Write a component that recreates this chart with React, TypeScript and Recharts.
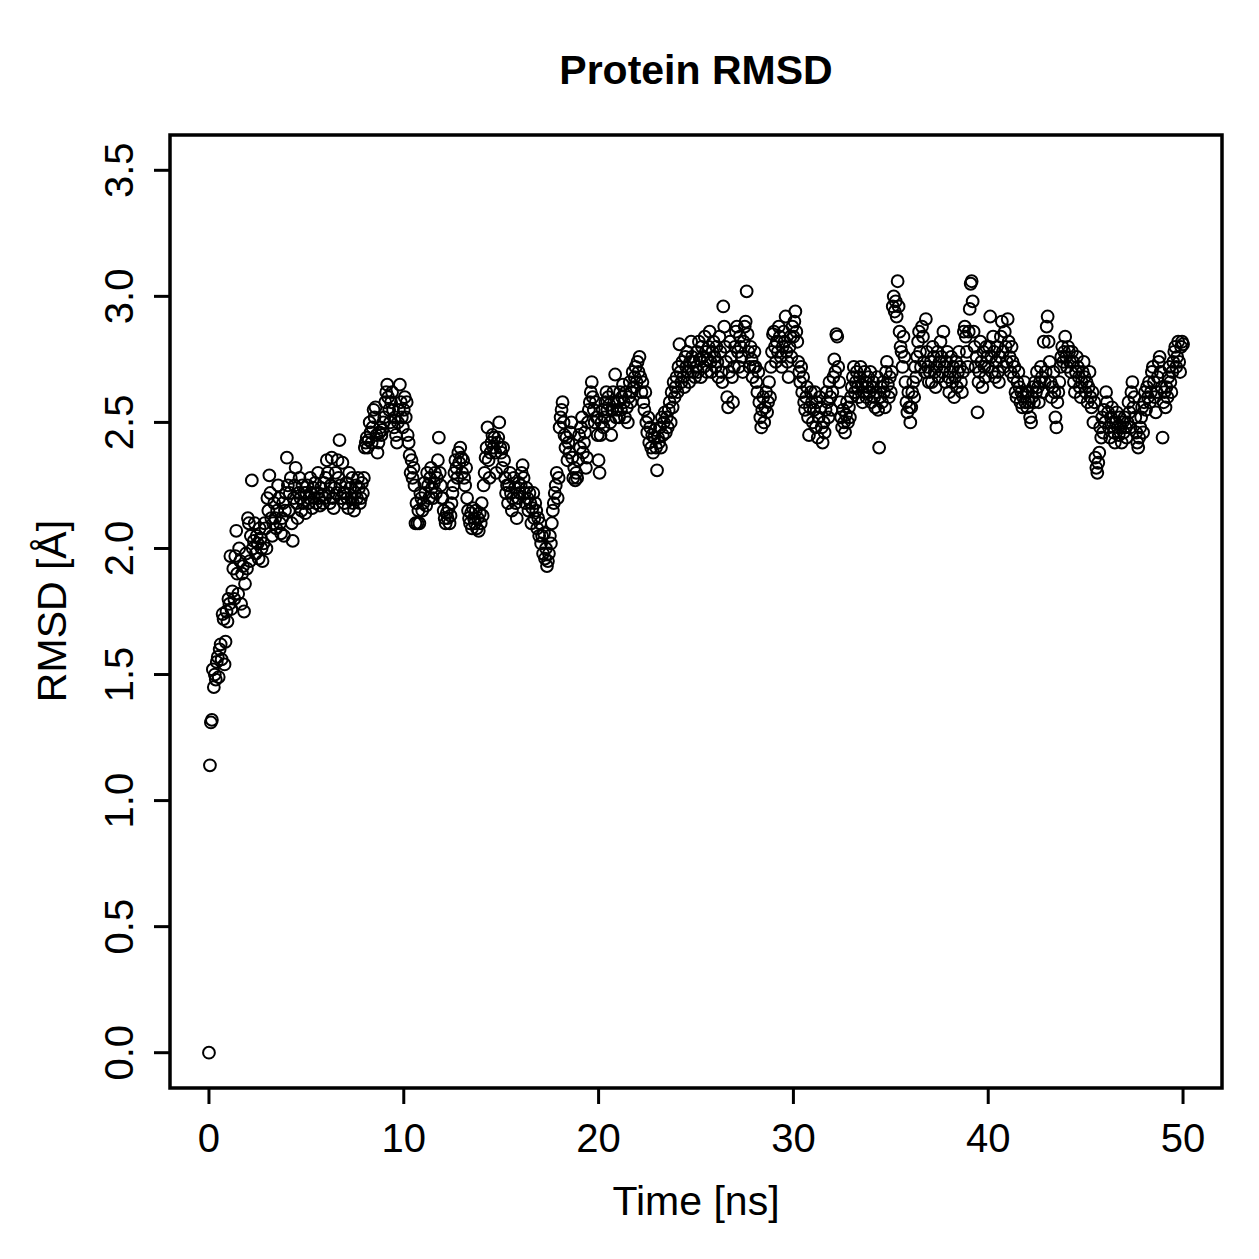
import React from "react";
import {
  ScatterChart,
  Scatter,
  XAxis,
  YAxis,
  ReferenceArea,
} from "recharts";

// RMSD per frame, one frame every 0.05 ns, split into 10 ns blocks
const rmsd00to10 = [
  0.0, 1.14, 1.31, 1.32, 1.52, 1.45, 1.5, 1.48, 1.55, 1.57, 1.49, 1.6, 1.62, 1.56, 1.74, 1.72, 1.54, 1.63, 1.75, 1.71,
  1.8, 1.78, 1.97, 1.76, 1.83, 1.92, 1.8, 1.97, 2.07, 1.9, 1.82, 2.0, 1.95, 1.78, 1.9, 1.93, 1.75, 1.86, 1.98, 1.92,
  2.12, 2.1, 1.95, 2.05, 2.27, 2.0, 2.03, 2.1, 1.98, 2.05, 2.02, 1.96, 2.08, 2.04, 2.0, 1.95, 2.02, 2.1, 2.08, 2.0,
  2.2, 2.15, 2.29, 2.22, 2.12, 2.05, 2.1, 2.18, 2.12, 2.08, 2.15, 2.25, 2.2, 2.1, 2.06, 2.12, 2.18, 2.05, 2.15, 2.22,
  2.36, 2.25, 2.15, 2.22, 2.28, 2.1, 2.03, 2.2, 2.25, 2.32, 2.18, 2.12, 2.22, 2.28, 2.2, 2.15, 2.25, 2.18, 2.22, 2.14,
  2.22, 2.25, 2.18, 2.2, 2.28, 2.22, 2.16, 2.24, 2.2, 2.26, 2.18, 2.22, 2.3, 2.2, 2.17, 2.24, 2.21, 2.18, 2.26, 2.2,
  2.28, 2.35, 2.3, 2.22, 2.18, 2.25, 2.36, 2.2, 2.16, 2.24, 2.3, 2.22, 2.35, 2.28, 2.43, 2.25, 2.2, 2.34, 2.22, 2.18,
  2.22, 2.26, 2.2, 2.16, 2.3, 2.24, 2.2, 2.28, 2.18, 2.15, 2.22, 2.25, 2.2, 2.28, 2.24, 2.18, 2.2, 2.26, 2.22, 2.28,
  2.4, 2.42, 2.44, 2.4, 2.43, 2.5, 2.46, 2.42, 2.48, 2.55, 2.52, 2.56, 2.45, 2.38, 2.42, 2.46, 2.48, 2.45, 2.47, 2.5,
  2.52, 2.58, 2.62, 2.65, 2.6, 2.55, 2.5, 2.58, 2.62, 2.55, 2.48, 2.52, 2.45, 2.42, 2.5, 2.55, 2.65, 2.58, 2.52, 2.48,
];

const rmsd10to20 = [
  2.55, 2.6, 2.52, 2.58, 2.45, 2.42, 2.37, 2.3, 2.35, 2.28, 2.32, 2.25, 2.1, 2.18, 2.1, 2.15, 2.1, 2.22, 2.2, 2.15,
  2.18, 2.26, 2.22, 2.17, 2.3, 2.25, 2.2, 2.28, 2.32, 2.24, 2.2, 2.26, 2.3, 2.22, 2.28, 2.35, 2.44, 2.3, 2.25, 2.2,
  2.2, 2.15, 2.12, 2.1, 2.14, 2.12, 2.16, 2.1, 2.13, 2.18, 2.22, 2.25, 2.3, 2.35, 2.32, 2.28, 2.38, 2.34, 2.4, 2.36,
  2.3, 2.35, 2.28, 2.25, 2.32, 2.2, 2.15, 2.12, 2.1, 2.14, 2.08, 2.16, 2.12, 2.1, 2.15, 2.08, 2.12, 2.07, 2.14, 2.1,
  2.18, 2.13, 2.25, 2.3, 2.36, 2.4, 2.48, 2.35, 2.28, 2.38, 2.42, 2.45, 2.4, 2.44, 2.38, 2.3, 2.42, 2.44, 2.5, 2.4,
  2.38, 2.32, 2.4, 2.35, 2.28, 2.22, 2.25, 2.18, 2.25, 2.3, 2.22, 2.15, 2.2, 2.28, 2.24, 2.18, 2.12, 2.2, 2.26, 2.22,
  2.25, 2.3, 2.33, 2.28, 2.22, 2.18, 2.24, 2.2, 2.15, 2.22, 2.18, 2.1, 2.16, 2.22, 2.12, 2.18, 2.15, 2.08, 2.12, 2.05,
  2.1, 2.02, 2.05, 1.98, 2.06, 1.96, 2.0, 1.93, 1.95, 1.98, 2.05, 2.02, 2.1, 2.15, 2.18, 2.22, 2.25, 2.3, 2.2, 2.28,
  2.48, 2.52, 2.55, 2.58, 2.5, 2.45, 2.4, 2.44, 2.35, 2.42, 2.38, 2.46, 2.5, 2.36, 2.28, 2.32, 2.27, 2.3, 2.28, 2.35,
  2.45, 2.4, 2.48, 2.52, 2.38, 2.42, 2.46, 2.32, 2.36, 2.5, 2.55, 2.58, 2.62, 2.66, 2.6, 2.55, 2.5, 2.58, 2.52, 2.45,
];

const rmsd20to30 = [
  2.35, 2.3, 2.45, 2.5, 2.55, 2.48, 2.52, 2.58, 2.62, 2.55, 2.6, 2.57, 2.5, 2.45, 2.55, 2.62, 2.58, 2.69, 2.52, 2.55,
  2.58, 2.52, 2.62, 2.55, 2.6, 2.65, 2.58, 2.52, 2.62, 2.56, 2.5, 2.6, 2.66, 2.58, 2.62, 2.7, 2.64, 2.68, 2.72, 2.66,
  2.74, 2.7, 2.76, 2.68, 2.62, 2.66, 2.58, 2.55, 2.62, 2.5, 2.46, 2.52, 2.42, 2.48, 2.4, 2.45, 2.38, 2.44, 2.47, 2.4,
  2.31, 2.44, 2.42, 2.48, 2.4, 2.52, 2.45, 2.5, 2.54, 2.46, 2.52, 2.48, 2.55, 2.58, 2.5, 2.62, 2.56, 2.66, 2.6, 2.64,
  2.68, 2.62, 2.72, 2.81, 2.7, 2.66, 2.74, 2.68, 2.64, 2.76, 2.72, 2.78, 2.7, 2.66, 2.74, 2.82, 2.76, 2.7, 2.74, 2.68,
  2.72, 2.78, 2.7, 2.82, 2.75, 2.68, 2.8, 2.76, 2.72, 2.84, 2.78, 2.7, 2.75, 2.8, 2.86, 2.74, 2.7, 2.78, 2.82, 2.76,
  2.72, 2.8, 2.74, 2.68, 2.84, 2.78, 2.7, 2.66, 2.96, 2.88, 2.8, 2.74, 2.6, 2.56, 2.7, 2.82, 2.76, 2.68, 2.58, 2.72,
  2.8, 2.86, 2.88, 2.78, 2.72, 2.84, 2.8, 2.76, 2.7, 2.82, 2.88, 2.9, 3.02, 2.85, 2.78, 2.72, 2.8, 2.75, 2.68, 2.72,
  2.78, 2.72, 2.66, 2.62, 2.7, 2.58, 2.52, 2.48, 2.55, 2.6, 2.5, 2.56, 2.62, 2.54, 2.58, 2.66, 2.6, 2.72, 2.78, 2.85,
  2.86, 2.8, 2.74, 2.82, 2.78, 2.88, 2.84, 2.76, 2.72, 2.8, 2.86, 2.82, 2.92, 2.78, 2.74, 2.68, 2.8, 2.84, 2.76, 2.88,
];

const rmsd30to40 = [
  2.84, 2.9, 2.94, 2.86, 2.82, 2.74, 2.7, 2.66, 2.72, 2.62, 2.68, 2.58, 2.55, 2.6, 2.64, 2.52, 2.45, 2.56, 2.62, 2.58,
  2.5, 2.55, 2.62, 2.48, 2.58, 2.44, 2.52, 2.6, 2.56, 2.48, 2.42, 2.5, 2.46, 2.55, 2.62, 2.58, 2.52, 2.66, 2.6, 2.55,
  2.62, 2.68, 2.75, 2.7, 2.85, 2.84, 2.72, 2.66, 2.58, 2.52, 2.48, 2.55, 2.5, 2.46, 2.53, 2.58, 2.5, 2.56, 2.52, 2.6,
  2.64, 2.68, 2.72, 2.62, 2.66, 2.7, 2.64, 2.6, 2.68, 2.72, 2.65, 2.58, 2.62, 2.7, 2.66, 2.6, 2.64, 2.68, 2.62, 2.7,
  2.58, 2.64, 2.66, 2.6, 2.56, 2.62, 2.68, 2.55, 2.4, 2.6, 2.64, 2.58, 2.66, 2.62, 2.56, 2.7, 2.74, 2.65, 2.6, 2.68,
  2.62, 2.7, 2.96, 3.0, 2.94, 2.98, 2.92, 3.06, 2.96, 2.86, 2.8, 2.78, 2.72, 2.84, 2.76, 2.66, 2.58, 2.54, 2.62, 2.56,
  2.5, 2.56, 2.62, 2.66, 2.6, 2.72, 2.68, 2.76, 2.82, 2.86, 2.78, 2.72, 2.88, 2.84, 2.74, 2.7, 2.91, 2.78, 2.72, 2.66,
  2.7, 2.74, 2.66, 2.8, 2.76, 2.7, 2.64, 2.72, 2.78, 2.68, 2.74, 2.82, 2.76, 2.7, 2.86, 2.72, 2.66, 2.74, 2.78, 2.68,
  2.62, 2.7, 2.76, 2.66, 2.72, 2.6, 2.68, 2.74, 2.64, 2.7, 2.78, 2.72, 2.66, 2.62, 2.7, 2.86, 2.88, 2.84, 2.78, 2.72,
  2.86, 2.95, 3.05, 3.06, 2.98, 2.86, 2.8, 2.72, 2.76, 2.54, 2.66, 2.7, 2.82, 2.74, 2.64, 2.78, 2.72, 2.68, 2.8, 2.76,
];

const rmsd40to50 = [
  2.72, 2.8, 2.92, 2.76, 2.7, 2.84, 2.78, 2.68, 2.74, 2.8, 2.7, 2.66, 2.76, 2.84, 2.9, 2.78, 2.72, 2.86, 2.8, 2.74,
  2.91, 2.82, 2.76, 2.7, 2.8, 2.74, 2.68, 2.72, 2.62, 2.6, 2.66, 2.7, 2.64, 2.58, 2.62, 2.56, 2.6, 2.66, 2.58, 2.62,
  2.56, 2.62, 2.58, 2.52, 2.5, 2.6, 2.64, 2.58, 2.66, 2.62, 2.7, 2.64, 2.58, 2.66, 2.72, 2.68, 2.62, 2.82, 2.66, 2.7,
  2.88, 2.92, 2.82, 2.74, 2.66, 2.6, 2.64, 2.7, 2.62, 2.52, 2.48, 2.58, 2.62, 2.66, 2.72, 2.76, 2.8, 2.74, 2.78, 2.84,
  2.76, 2.72, 2.8, 2.78, 2.74, 2.7, 2.78, 2.74, 2.66, 2.62, 2.7, 2.76, 2.72, 2.68, 2.64, 2.6, 2.66, 2.7, 2.74, 2.68,
  2.62, 2.66, 2.58, 2.64, 2.7, 2.6, 2.56, 2.62, 2.5, 2.58, 2.36, 2.32, 2.3, 2.34, 2.38, 2.48, 2.44, 2.52, 2.46, 2.55,
  2.5, 2.62, 2.58, 2.54, 2.48, 2.44, 2.52, 2.56, 2.5, 2.46, 2.42, 2.5, 2.54, 2.48, 2.45, 2.52, 2.48, 2.42, 2.5, 2.46,
  2.52, 2.48, 2.44, 2.5, 2.58, 2.54, 2.48, 2.62, 2.66, 2.56, 2.6, 2.52, 2.46, 2.42, 2.4, 2.44, 2.48, 2.52, 2.56, 2.46,
  2.58, 2.62, 2.55, 2.64, 2.6, 2.66, 2.58, 2.62, 2.7, 2.72, 2.66, 2.6, 2.54, 2.62, 2.68, 2.74, 2.76, 2.7, 2.64, 2.44,
  2.58, 2.62, 2.56, 2.64, 2.6, 2.68, 2.72, 2.66, 2.62, 2.7, 2.74, 2.78, 2.8, 2.72, 2.76, 2.82, 2.74, 2.7, 2.8, 2.82,
  2.81,
];

const frameStep = 0.05; // ns between frames
const xTicks = [0, 10, 20, 30, 40, 50];
const yTicks = [0, 0.5, 1, 1.5, 2, 2.5, 3, 3.5];

const rmsdValues = [
  ...rmsd00to10,
  ...rmsd10to20,
  ...rmsd20to30,
  ...rmsd30to40,
  ...rmsd40to50,
];

const points = rmsdValues.map((rmsd, i) => ({
  time: Number((i * frameStep).toFixed(2)),
  rmsd,
}));

const FONT = "'Liberation Sans', Arial, Helvetica, sans-serif";

const XTick = ({ x, y, payload }: any) => (
  <text x={x} y={y + 46} textAnchor="middle" fontFamily={FONT} fontSize={40} fill="#000">
    {payload.value}
  </text>
);

const YTick = ({ x, y, payload }: any) => {
  const bx = x - 19;
  return (
    <text
      x={bx}
      y={y}
      transform={`rotate(-90 ${bx} ${y})`}
      textAnchor="middle"
      fontFamily={FONT}
      fontSize={40}
      fill="#000"
    >
      {Number(payload.value).toFixed(1)}
    </text>
  );
};

// open circle marker, like R's pch = 1
const Ring = (props: any) => (
  <circle cx={props.cx} cy={props.cy} r={5.9} fill="none" stroke="#000" strokeWidth={2} />
);

export default function App() {
  return (
    <div style={{ position: "absolute", left: 0, top: 0, width: 1259, height: 1259, background: "#fff" }}>
      <ScatterChart
        width={1259}
        height={1259}
        margin={{ top: 135, right: 37, bottom: 0, left: 0 }}
      >
        <XAxis
          type="number"
          dataKey="time"
          domain={[-2, 52]}
          ticks={xTicks}
          allowDataOverflow
          axisLine={false}
          tickLine={{ stroke: "#000", strokeWidth: 3 }}
          tickSize={16}
          height={171}
          tick={<XTick />}
          interval={0}
        />
        <YAxis
          type="number"
          dataKey="rmsd"
          domain={[-0.14, 3.64]}
          ticks={yTicks}
          allowDataOverflow
          axisLine={false}
          tickLine={{ stroke: "#000", strokeWidth: 3 }}
          tickSize={16}
          width={170}
          tick={<YTick />}
          interval={0}
        />
        <Scatter data={points} shape={<Ring />} isAnimationActive={false} />
        <ReferenceArea
          x1={-2}
          x2={52}
          y1={-0.14}
          y2={3.64}
          fill="none"
          fillOpacity={0}
          stroke="#000"
          strokeWidth={3.5}
          ifOverflow="visible"
        />
      </ScatterChart>
      <svg
        width={1259}
        height={1259}
        style={{ position: "absolute", left: 0, top: 0, pointerEvents: "none" }}
      >
        <text x={696} y={84} textAnchor="middle" fontFamily={FONT} fontSize={41} fontWeight="bold" fill="#000">
          Protein RMSD
        </text>
        <text x={696} y={1215} textAnchor="middle" fontFamily={FONT} fontSize={41} fill="#000">
          Time [ns]
        </text>
        <text
          x={66}
          y={611}
          transform="rotate(-90 66 611)"
          textAnchor="middle"
          fontFamily={FONT}
          fontSize={41}
          fill="#000"
        >
          RMSD [Å]
        </text>
      </svg>
    </div>
  );
}
